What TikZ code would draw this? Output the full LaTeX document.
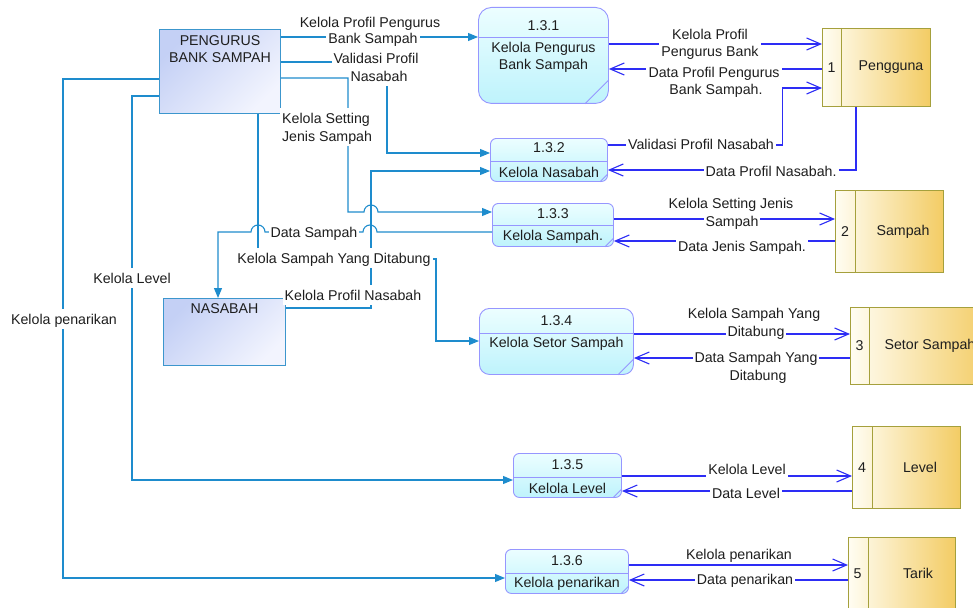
\documentclass[tikz,border=0pt]{standalone}
\usepackage{fontspec}
\setmainfont{Liberation Sans}
\usetikzlibrary{arrows.meta}

\definecolor{entc}{RGB}{30,140,205}
\definecolor{sfc}{RGB}{45,45,245}
\definecolor{procb}{RGB}{150,150,255}
\definecolor{procA}{RGB}{236,254,255}
\definecolor{procB}{RGB}{190,243,252}
\definecolor{entb}{RGB}{60,150,205}
\definecolor{entA}{RGB}{196,208,245}
\definecolor{entB}{RGB}{242,244,254}
\definecolor{stb}{RGB}{165,160,60}
\definecolor{stA}{RGB}{255,253,242}
\definecolor{stB}{RGB}{243,204,100}
\definecolor{txt}{RGB}{30,30,30}

\newcommand{\dfdfont}{\fontsize{14.2}{17}\selectfont}

\begin{document}
\begin{tikzpicture}[x=1pt,y=-1pt,
  proc/.style={draw=procb, line width=0.9pt, rounded corners=6pt,
    top color=procA, bottom color=procB, anchor=north west, inner sep=0pt},
  ent/.style={draw=entb, line width=1pt, top color=entA, bottom color=entB,
    shading angle=45, anchor=north west, inner sep=0pt},
  store/.style={draw=stb, line width=1pt, left color=stA, right color=stB,
    anchor=north west, inner sep=0pt},
  pdiv/.style={draw=procb, line width=0.9pt},
  sdiv/.style={draw=stb, line width=1pt},
  ptxt/.style={font=\dfdfont, text=txt, align=center, inner sep=0pt},
  lbl/.style={font=\dfdfont, text=txt, fill=white, inner xsep=2pt, inner ysep=2.5pt,
    text height=12.5pt, text depth=2pt},
  eflow/.style={draw=entc, line width=1.1pt, -{Triangle[length=10pt,width=8pt]}},
  sflow/.style={draw=sfc, line width=1.1pt, -{Straight Barb[length=14pt,width=12pt]}}
]
\useasboundingbox (0,0) rectangle (973,607);
\clip (0,0) rectangle (973,607);

% ---------- external entities ----------
\node[ent, minimum width=121pt, minimum height=84pt] (E1) at (159,29) {};
\node[ptxt] (E1t) at ([yshift=-20.5pt]E1.north) {PENGURUS\\BANK SAMPAH};
\node[ent, minimum width=122pt, minimum height=67pt] (E2) at (163,298) {};
\node[ptxt] (E2t) at ([yshift=-11pt]E2.north) {NASABAH};

% ---------- processes ----------
\node[proc, rounded corners=13pt, minimum width=130pt, minimum height=96pt] (P1) at (478,7) {};
\draw[pdiv] ([yshift=-30pt]P1.north west) -- ([yshift=-30pt]P1.north east);
\draw[pdiv] ([xshift=-24pt]P1.south east) -- ([yshift=24pt]P1.south east);
\node[ptxt] (P1n) at ([yshift=-19pt]P1.north) {1.3.1};
\node[ptxt] (P1t) at ([yshift=-50.5pt]P1.north) {Kelola Pengurus\\Bank Sampah};

\node[proc, minimum width=117pt, minimum height=43pt] (P2) at (490,138) {};
\draw[pdiv] ([yshift=-23pt]P2.north west) -- ([yshift=-23pt]P2.north east);
\draw[pdiv] ([xshift=-8pt]P2.south east) -- ([yshift=8pt]P2.south east);
\node[ptxt] (P2n) at ([yshift=-10pt]P2.north) {1.3.2};
\node[ptxt] (P2t) at ([yshift=-34pt]P2.north) {Kelola Nasabah};

\node[proc, minimum width=121pt, minimum height=43pt] (P3) at (492,203) {};
\draw[pdiv] ([yshift=-22pt]P3.north west) -- ([yshift=-22pt]P3.north east);
\draw[pdiv] ([xshift=-9pt]P3.south east) -- ([yshift=9pt]P3.south east);
\node[ptxt] (P3n) at ([yshift=-11pt]P3.north) {1.3.3};
\node[ptxt] (P3t) at ([yshift=-34pt]P3.north) {Kelola Sampah.};

\node[proc, rounded corners=10pt, minimum width=154pt, minimum height=66pt] (P4) at (479,308) {};
\draw[pdiv] ([yshift=-25pt]P4.north west) -- ([yshift=-25pt]P4.north east);
\draw[pdiv] ([xshift=-16pt]P4.south east) -- ([yshift=16pt]P4.south east);
\node[ptxt] (P4n) at ([yshift=-13pt]P4.north) {1.3.4};
\node[ptxt] (P4t) at ([yshift=-36pt]P4.north) {Kelola Setor Sampah};

\node[proc, minimum width=108pt, minimum height=44pt] (P5) at (513,453) {};
\draw[pdiv] ([yshift=-24pt]P5.north west) -- ([yshift=-24pt]P5.north east);
\draw[pdiv] ([xshift=-9pt]P5.south east) -- ([yshift=9pt]P5.south east);
\node[ptxt] (P5n) at ([yshift=-12pt]P5.north) {1.3.5};
\node[ptxt] (P5t) at ([yshift=-35pt]P5.north) {Kelola Level};

\node[proc, minimum width=123pt, minimum height=44pt] (P6) at (505,549) {};
\draw[pdiv] ([yshift=-24pt]P6.north west) -- ([yshift=-24pt]P6.north east);
\draw[pdiv] ([xshift=-8pt]P6.south east) -- ([yshift=8pt]P6.south east);
\node[ptxt] (P6n) at ([yshift=-12pt]P6.north) {1.3.6};
\node[ptxt] (P6t) at ([yshift=-35pt]P6.north) {Kelola penarikan};

% ---------- data stores ----------
\node[store, minimum width=108pt, minimum height=78pt] (S1) at (822,28) {};
\draw[sdiv] ([xshift=19pt]S1.north west) -- ([xshift=19pt]S1.south west);
\node[ptxt] (S1n) at ([xshift=9.5pt]S1.west) {1};
\node[ptxt] (S1t) at ([xshift=69pt]S1.west) {Pengguna};

\node[store, minimum width=108pt, minimum height=82pt] (S2) at (835,190) {};
\draw[sdiv] ([xshift=20pt]S2.north west) -- ([xshift=20pt]S2.south west);
\node[ptxt] (S2n) at ([xshift=10pt]S2.west) {2};
\node[ptxt] (S2t) at ([xshift=68pt]S2.west) {Sampah};

\node[store, minimum width=140pt, minimum height=77pt] (S3) at (850,307) {};
\draw[sdiv] ([xshift=19pt]S3.north west) -- ([xshift=19pt]S3.south west);
\node[ptxt] (S3n) at ([xshift=9.5pt]S3.west) {3};
\node[ptxt] (S3t) at ([xshift=80pt]S3.west) {Setor Sampah};

\node[store, minimum width=108pt, minimum height=82pt] (S4) at (852,426) {};
\draw[sdiv] ([xshift=20pt]S4.north west) -- ([xshift=20pt]S4.south west);
\node[ptxt] (S4n) at ([xshift=10pt]S4.west) {4};
\node[ptxt] (S4t) at ([xshift=68pt]S4.west) {Level};

\node[store, minimum width=107pt, minimum height=72pt] (S5) at (848,537) {};
\draw[sdiv] ([xshift=20pt]S5.north west) -- ([xshift=20pt]S5.south west);
\node[ptxt] (S5n) at ([xshift=9.5pt]S5.west) {5};
\node[ptxt] (S5t) at ([xshift=70pt]S5.west) {Tarik};

% ---------- flows between entities and processes ----------
\draw[eflow] ([yshift=-8pt]E1.north east) -- ([yshift=-30pt]P1.north west);
\draw[eflow] ([yshift=-33pt]E1.north east) -- ++(106,0) |- ([yshift=-15pt]P2.north west);
\draw[eflow] ([yshift=-49pt]E1.north east) -- ++(67,0) -- ++(0,134) -- ++(16,0)
  arc[start angle=180, end angle=0, radius=7pt] -- ([yshift=-9pt]P3.north west);
\draw[eflow] ([xshift=99pt]E1.south west) -- ++(0,145) -- ++(178,0) |- ([yshift=-33pt]P4.north west);
\draw[eflow] ([yshift=-67pt]E1.north west) -- ++(-27,0) |- ([yshift=-27pt]P5.north west);
\draw[eflow] ([yshift=-50pt]E1.north west) -- ++(-96,0) |- ([yshift=-29pt]P6.north west);
\draw[eflow] ([yshift=-29pt]P3.north west) -- ++(-115,0)
  arc[start angle=0, end angle=180, radius=7pt] -- ++(-98,0)
  arc[start angle=0, end angle=180, radius=7pt] -| ([xshift=55pt]E2.north west);
\draw[eflow] ([yshift=-10pt]E2.north east) -- ++(85,0) |- ([yshift=-33pt]P2.north west);

% ---------- flows between processes and data stores ----------
\draw[sflow] ([yshift=-37pt]P1.north east) -- ([yshift=-16pt]S1.north west);
\draw[sflow] ([yshift=-41pt]S1.north west) -- ([yshift=-62pt]P1.north east);
\draw[sflow] ([yshift=-7pt]P2.north east) -- ++(175,0) |- ([yshift=-60pt]S1.north west);
\draw[sflow] ([xshift=34pt]S1.south west) |- ([yshift=-32pt]P2.north east);
\draw[sflow] ([yshift=-16pt]P3.north east) -- ([yshift=-29pt]S2.north west);
\draw[sflow] ([yshift=-51pt]S2.north west) -- ([yshift=-38pt]P3.north east);
\draw[sflow] ([yshift=-26pt]P4.north east) -- ([yshift=-27pt]S3.north west);
\draw[sflow] ([yshift=-51pt]S3.north west) -- ([yshift=-50pt]P4.north east);
\draw[sflow] ([yshift=-23pt]P5.north east) -- ([yshift=-50pt]S4.north west);
\draw[sflow] ([yshift=-65pt]S4.north west) -- ([yshift=-38pt]P5.north east);
\draw[sflow] ([yshift=-16pt]P6.north east) -- ([yshift=-28pt]S5.north west);
\draw[sflow] ([yshift=-43pt]S5.north west) -- ([yshift=-31pt]P6.north east);

% ---------- flow labels (lower line first so the upper one stays whole) ----------
\node[lbl] (L1b) at (373,38) {Bank Sampah};
\node[lbl] (L1a) at (370,22) {Kelola Profil Pengurus};
\node[lbl] (L2b) at (379,76) {Nasabah};
\node[lbl] (L2a) at (376,58) {Validasi Profil};
\node[lbl] (L3b) at (327,136) {Jenis Sampah};
\node[lbl] (L3a) at (326,118) {Kelola Setting};
\node[lbl] (L4) at (334,258) {Kelola Sampah Yang Ditabung};
\node[lbl] (L5) at (132,278) {Kelola Level};
\node[lbl] (L6) at (64,319) {Kelola penarikan};
\node[lbl] (L7) at (314,232) {Data Sampah};
\node[lbl] (L8) at (353,295) {Kelola Profil Nasabah};

\node[lbl] (M1b) at (710,51) {Pengurus Bank};
\node[lbl] (M1a) at (710,34) {Kelola Profil};
\node[lbl] (M2b) at (716,89) {Bank Sampah.};
\node[lbl] (M2a) at (714,72) {Data Profil Pengurus};
\node[lbl] (M3) at (701,144) {Validasi Profil Nasabah};
\node[lbl] (M4) at (771,171) {Data Profil Nasabah.};
\node[lbl] (M5b) at (732,221) {Sampah};
\node[lbl] (M5a) at (731,203) {Kelola Setting Jenis};
\node[lbl] (M6) at (742,246) {Data Jenis Sampah.};
\node[lbl] (M7b) at (756,331) {Ditabung};
\node[lbl] (M7a) at (754,313) {Kelola Sampah Yang};
\node[lbl] (M8b) at (758,375) {Ditabung};
\node[lbl] (M8a) at (756,357) {Data Sampah Yang};
\node[lbl] (M9) at (747,469) {Kelola Level};
\node[lbl] (M10) at (746,493) {Data Level};
\node[lbl] (M11) at (739,554) {Kelola penarikan};
\node[lbl] (M12) at (745,579) {Data penarikan};
\end{tikzpicture}
\end{document}
